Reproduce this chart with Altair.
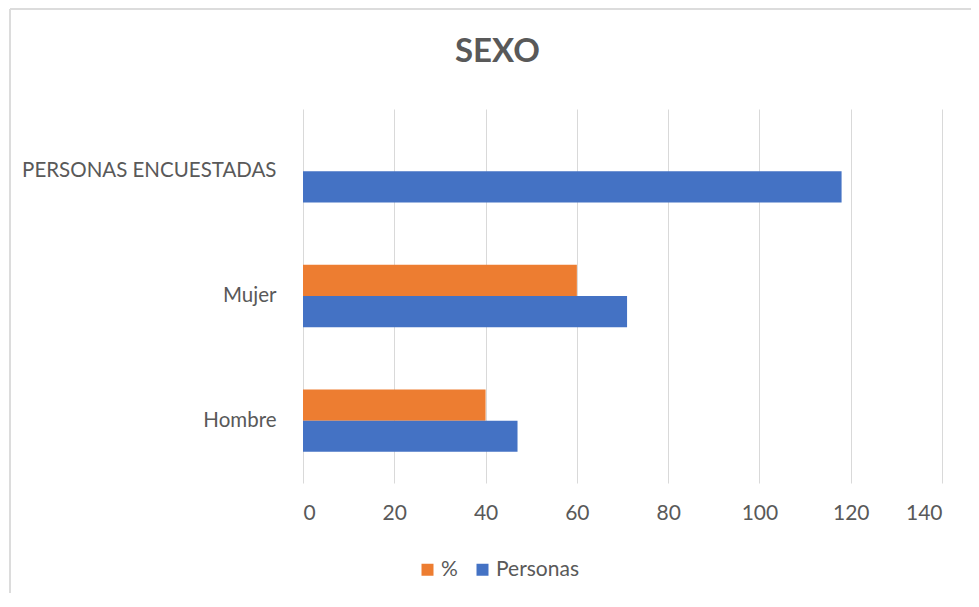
import altair as alt
import pandas as pd

categories = ["PERSONAS ENCUESTADAS", "Mujer", "Hombre"]
series = ["%", "Personas"]
pct_values = [None, 60, 40]
personas_values = [118, 71, 47]
x_ticks = [0, 20, 40, 60, 80, 100, 120, 140]

rows = []
for cat, p, n in zip(categories, pct_values, personas_values):
    if p is not None:
        rows.append({"categoria": cat, "serie": "%", "valor": p})
    if n is not None:
        rows.append({"categoria": cat, "serie": "Personas", "valor": n})
df = pd.DataFrame(rows)

FONT = "Lato"
GRAY = "#595959"

bars = alt.Chart(df).mark_bar().encode(
    x=alt.X("valor:Q",
            scale=alt.Scale(domain=[0, 140], nice=False),
            axis=alt.Axis(values=x_ticks, title=None, domain=False, ticks=False,
                          grid=True, gridColor="#d9d9d9", gridWidth=1,
                          labelPadding=19, labelFontSize=21, labelColor=GRAY,
                          labelFont=FONT)),
    y=alt.Y("categoria:N", sort=categories,
            scale=alt.Scale(paddingInner=0.5, paddingOuter=0.25),
            axis=alt.Axis(title=None, domain=False, ticks=False, grid=False,
                          labelPadding=27, labelFontSize=20.5, labelColor=GRAY,
                          labelFont=FONT, labelLimit=500)),
    yOffset=alt.YOffset("serie:N", sort=series,
                        scale=alt.Scale(domain=series, paddingInner=0, paddingOuter=0)),
    color=alt.Color("serie:N",
                    scale=alt.Scale(domain=series, range=["#ED7D31", "#4472C4"]),
                    legend=alt.Legend(title=None, orient="none", direction="horizontal",
                                      legendX=114, legendY=450,
                                      symbolType="square", symbolSize=144,
                                      symbolStrokeWidth=0, labelFontSize=21,
                                      labelColor=GRAY, labelFont=FONT,
                                      columnPadding=14, labelOffset=3)),
)

frame_left = alt.Chart(df).mark_rule(color="#dcdcdc", strokeWidth=2).encode(
    x=alt.value(-293), y=alt.value(-100), y2=alt.value(500)
)
frame_top = alt.Chart(df).mark_rule(color="#dcdcdc", strokeWidth=2).encode(
    x=alt.value(-293), x2=alt.value(680), y=alt.value(-100)
)

chart = alt.layer(frame_left, frame_top, bars).properties(
    width=639,
    height=374,
    autosize=alt.AutoSizeParams(type="none"),
    padding={"left": 295, "top": 101, "right": 29, "bottom": 110},
    title=alt.TitleParams("SEXO", fontSize=33, font=FONT, fontWeight="bold",
                          color=GRAY, anchor="middle", dx=-125, offset=-61),
).configure_view(stroke=None)

chart.save("out.html", embed_options={"renderer": "svg", "actions": False})
